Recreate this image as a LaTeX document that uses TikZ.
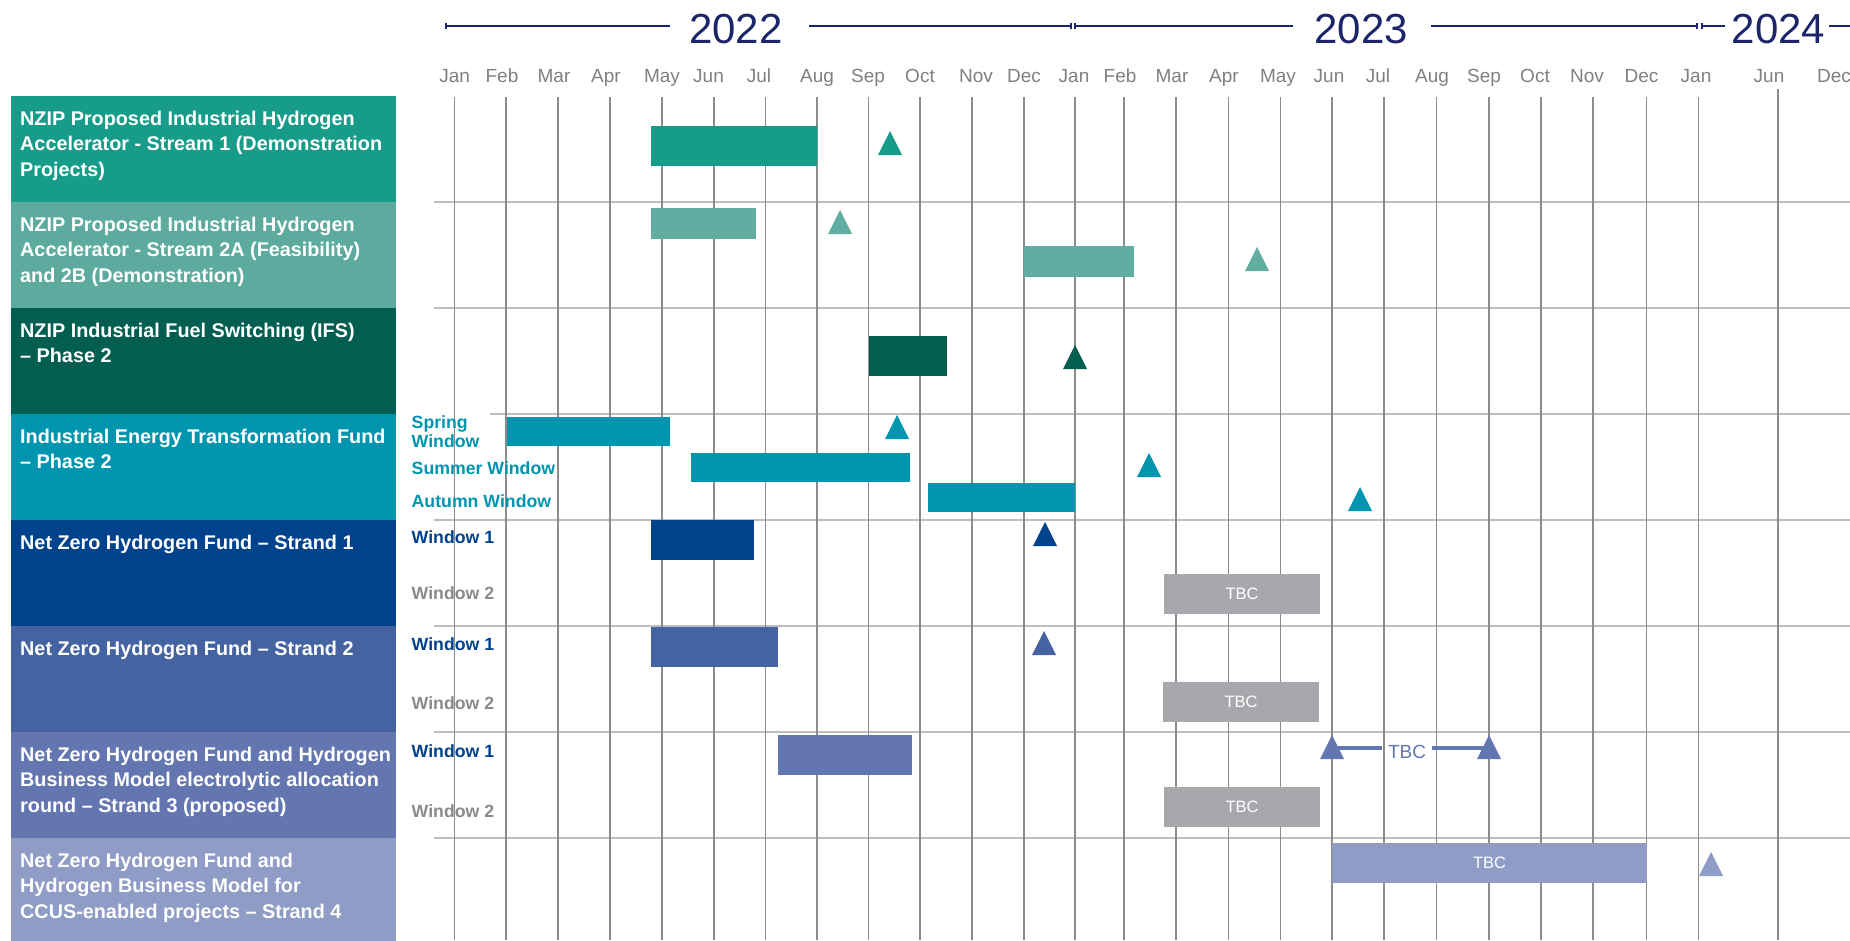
\documentclass[tikz,border=0pt]{standalone}
\usepackage{fontspec}
\setmainfont{Liberation Sans}
\usetikzlibrary{calc}
\definecolor{cA}{HTML}{179C8A}
\definecolor{cB}{HTML}{5CAB9E}
\definecolor{cBb}{HTML}{62ADA2}
\definecolor{cC}{HTML}{025E50}
\definecolor{cD}{HTML}{0095AF}
\definecolor{cE}{HTML}{00428B}
\definecolor{cF}{HTML}{4563A0}
\definecolor{cG}{HTML}{6476B0}
\definecolor{cH}{HTML}{8E9CC6}
\definecolor{tbcgray}{HTML}{A7A8AC}
\definecolor{navy}{HTML}{1B2567}
\definecolor{monthgray}{HTML}{808080}
\definecolor{gridv}{HTML}{8C8C8C}
\definecolor{gridh}{HTML}{BEBEBE}
\definecolor{wingray}{HTML}{8A8A8A}
\newcommand\gbar[6]{\node[barbox, fill=#6, minimum width={#4-#2}, minimum height={#5-#3}] (#1) at (#2,#3) {};}
\newcommand\mstone[4]{\fill[#4] (#2,#3) -- ++(12,24) -- ++(-24,0) -- cycle; \coordinate (#1) at (#2,#3+13);}
\begin{document}
\begin{tikzpicture}[x=1pt,y=-1pt,
  rowbox/.style={draw=none, inner sep=0, outer sep=0, anchor=north west, minimum width=385, minimum height=106},
  rowtxt/.style={anchor=base west, inner sep=0, text=white, font=\bfseries\fontsize{19.8}{25.5}\selectfont},
  wlab/.style={anchor=base west, inner sep=0, font=\bfseries\fontsize{17.7}{19}\selectfont},
  mlab/.style={anchor=base, inner sep=0, text=monthgray, font=\fontsize{19}{19}\selectfont},
  ylab/.style={anchor=base, inner sep=0, text=navy, font=\fontsize{42}{42}\selectfont},
  tbctxt/.style={text=white, inner sep=0, font=\fontsize{16.5}{16.5}\selectfont},
  barbox/.style={anchor=north west, inner sep=0, outer sep=0, draw=none},
  gridvl/.style={draw=gridv, line width=1.2},
  gridhl/.style={draw=gridh, line width=1.8},
  yearline/.style={draw=navy, line width=1.5}]
\useasboundingbox (0,0) rectangle (1850,940);
\clip (0,0) rectangle (1850,940);
\fill[white] (0,0) rectangle (1850,940);

% ---------- year header ----------
\node[ylab] (y22) at (736,43) {2022};
\node[ylab] (y23) at (1361,43) {2023};
\node[ylab] (y24) at (1778.5,43) {2024};
\draw[yearline] (446,26) -- (670,26) (809,26) -- (1071,26);
\draw[yearline] (1075,26) -- (1293,26) (1431,26) -- (1697,26);
\draw[yearline] (1702,26) -- (1725,26) (1829,26) -- (1850,26);
\foreach \t in {446,1071,1075,1697,1702} \draw[yearline] (\t,23) -- (\t,29);

% ---------- months ----------
\foreach \x/\m [count=\i] in {454.6/Jan,502/Feb,554/Mar,606/Apr,662/May,708.5/Jun,759/Jul,817/Aug,868/Sep,920/Oct,976/Nov,1024/Dec,1074/Jan,1120/Feb,1172/Mar,1224/Apr,1278/May,1329/Jun,1378/Jul,1432/Aug,1484/Sep,1535/Oct,1587/Nov,1641.5/Dec,1696/Jan,1769/Jun,1834/Dec}
  \node[mlab] (mon\i) at (\x,82.5) {\m};

% ---------- grid ----------
\foreach \y in {202,308,520,626,732,838} \draw[gridhl] (434,\y) -- (1850,\y);
\draw[gridhl] (490,414) -- (1850,414);
\foreach \x in {454.6,506,558,610,662,714,765.5,817,868.5,920,972,1024,1075,1124,1176,1228.5,1280.5,1332,1384,1436.5,1489,1541,1593,1646.5,1698.5}
  \draw[gridvl] (\x,97) -- (\x,940);
\draw[gridvl] (1778,89) -- (1778,940);

% ---------- row label boxes ----------
\node[rowbox, fill=cA] (row1) at (11,96) {};
\node[rowbox, fill=cB] (row2) at (11,202) {};
\node[rowbox, fill=cC] (row3) at (11,308) {};
\node[rowbox, fill=cD] (row4) at (11,414) {};
\node[rowbox, fill=cE] (row5) at (11,520) {};
\node[rowbox, fill=cF] (row6) at (11,626) {};
\node[rowbox, fill=cG] (row7) at (11,732) {};
\node[rowbox, fill=cH] (row8) at (11,838) {};

\node[rowtxt] (r1a) at (20,125) {NZIP Proposed Industrial Hydrogen};
\node[rowtxt] (r1b) at (20,150.5) {Accelerator - Stream 1 (Demonstration};
\node[rowtxt] (r1c) at (20,176) {Projects)};
\node[rowtxt] (r2a) at (20,231) {NZIP Proposed Industrial Hydrogen};
\node[rowtxt] (r2b) at (20,256.5) {Accelerator - Stream 2A (Feasibility)};
\node[rowtxt] (r2c) at (20,282) {and 2B (Demonstration)};
\node[rowtxt] (r3a) at (20,337) {NZIP Industrial Fuel Switching (IFS)};
\node[rowtxt] (r3b) at (20,362.5) {– Phase 2};
\node[rowtxt] (r4a) at (20,443) {Industrial Energy Transformation Fund};
\node[rowtxt] (r4b) at (20,468.5) {– Phase 2};
\node[rowtxt] (r5a) at (20,549) {Net Zero Hydrogen Fund – Strand 1};
\node[rowtxt] (r6a) at (20,655) {Net Zero Hydrogen Fund – Strand 2};
\node[rowtxt] (r7a) at (20,761) {Net Zero Hydrogen Fund and Hydrogen};
\node[rowtxt] (r7b) at (20,786.5) {Business Model electrolytic allocation};
\node[rowtxt] (r7c) at (20,812) {round – Strand 3 (proposed)};
\node[rowtxt] (r8a) at (20,867) {Net Zero Hydrogen Fund and};
\node[rowtxt] (r8b) at (20,892.5) {Hydrogen Business Model for};
\node[rowtxt] (r8c) at (20,918) {CCUS-enabled projects – Strand 4};

% ---------- window labels ----------
\node[wlab, text=cD] (w4a) at (411.5,428) {Spring};
\node[wlab, text=cD] (w4b) at (411.5,447) {Window};
\node[wlab, text=cD] (w4c) at (411.5,474.5) {Summer Window};
\node[wlab, text=cD] (w4d) at (411.5,507.5) {Autumn Window};
\node[wlab, text=cE] (w5a) at (411.5,543.5) {Window 1};
\node[wlab, text=wingray] (w5b) at (411.5,599.5) {Window 2};
\node[wlab, text=cE] (w6a) at (411.5,650) {Window 1};
\node[wlab, text=wingray] (w6b) at (411.5,709.5) {Window 2};
\node[wlab, text=cE] (w7a) at (411.5,757) {Window 1};
\node[wlab, text=wingray] (w7b) at (411.5,817) {Window 2};

% ---------- bars ----------
\gbar{b1}{651}{126}{817}{166}{cA}
\gbar{b2a}{651}{208}{756}{239}{cBb}
\gbar{b2b}{1024}{246}{1134}{277}{cBb}
\gbar{b3}{869}{336}{947}{376}{cC}
\gbar{b4a}{506.5}{417}{670}{446}{cD}
\gbar{b4b}{691}{453}{910}{482}{cD}
\gbar{b4c}{928}{483}{1075}{512}{cD}
\gbar{b5a}{651}{520}{754}{560}{cE}
\gbar{b5b}{1164}{574}{1320}{614}{tbcgray}
\gbar{b6a}{651}{627}{778}{667}{cF}
\gbar{b6b}{1163}{682}{1319}{722}{tbcgray}
\gbar{b7a}{778}{735}{912}{775}{cG}
\gbar{b7b}{1164}{787}{1320}{827}{tbcgray}
\gbar{b8}{1332}{843}{1647}{883}{cH}
\node[tbctxt] (t5) at (b5b.center) {TBC};
\node[tbctxt] (t6) at (b6b.center) {TBC};
\node[tbctxt] (t7) at (b7b.center) {TBC};
\node[tbctxt] (t8) at (b8.center) {TBC};

% ---------- milestones ----------
\mstone{m1}{890}{131}{cA}
\mstone{m2a}{840}{210}{cBb}
\mstone{m2b}{1257}{247}{cBb}
\mstone{m3}{1075}{345}{cC}
\mstone{m4a}{897}{415}{cD}
\mstone{m4b}{1149}{453}{cD}
\mstone{m4c}{1360}{487}{cD}
\mstone{m5}{1045}{522}{cE}
\mstone{m6}{1044}{631}{cF}
\mstone{m7L}{1332}{735}{cG}
\mstone{m7R}{1489}{735}{cG}
\mstone{m8}{1711}{852}{cH}

% ---------- TBC span in row 7 ----------
\node[anchor=base, inner ysep=0, inner xsep=6, text=cG, font=\fontsize{19}{19}\selectfont] (tbc7) at (1407,758) {TBC};
\draw[cG, line width=4] (m7L) -- (m7L -| tbc7.west);
\draw[cG, line width=4] (m7R -| tbc7.east) -- (m7R);
\end{tikzpicture}
\end{document}
